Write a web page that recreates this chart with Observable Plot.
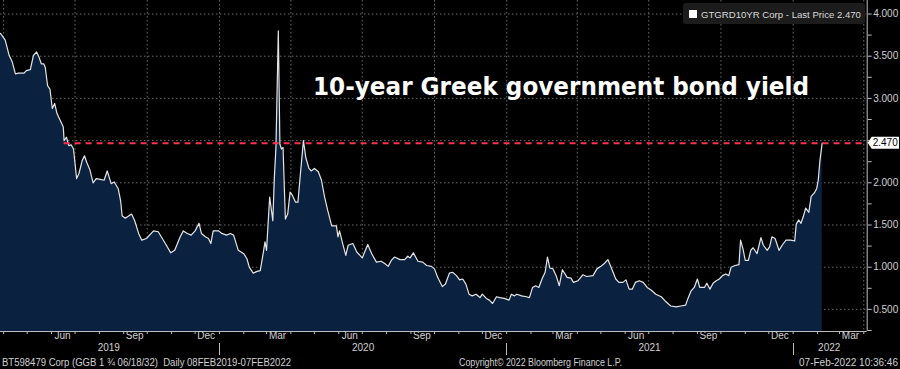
<!DOCTYPE html>
<html><head><meta charset="utf-8">
<script src="https://cdn.jsdelivr.net/npm/d3@7"></script>
<script src="https://cdn.jsdelivr.net/npm/@observablehq/plot@0.6"></script>
<style>
html,body{margin:0;padding:0;background:#000;}
#chart{width:900px;height:369px;overflow:hidden;}
svg{display:block}
</style></head><body><div id="chart"></div>
<script>
// ---- data (GTGRD10YR, yield %) ----
const days2019 = ["03-28","04-03","04-08","04-12","04-16","04-20","04-27","04-30","05-05","05-09","05-13","05-16","05-19","05-22","05-24","05-27","05-30","06-02","06-05","06-08","06-12","06-16","06-17","06-20","06-23","06-26","06-29","07-03","07-06","07-10","07-13","07-16","07-20","07-24","07-28","08-02","08-07","08-11","08-16","08-20","08-25","08-28","08-30","09-03","09-11","09-15","09-20","09-24","09-30","10-09","10-15","10-24","10-31","11-05","11-12","11-16","11-21","11-26","12-01","12-06","12-09","12-14","12-18","12-21","12-24","12-31"];
const yields2019 = [3.77,3.69,3.51,3.43,3.29,3.30,3.30,3.33,3.34,3.51,3.55,3.49,3.41,3.41,3.37,3.15,3.11,2.88,2.94,2.82,2.74,2.66,2.50,2.54,2.44,2.45,2.40,2.05,2.11,2.26,2.32,2.24,2.15,2.00,2.05,2.04,2.03,2.14,1.99,2.01,1.93,1.79,1.61,1.58,1.63,1.55,1.40,1.32,1.34,1.43,1.42,1.28,1.17,1.20,1.36,1.43,1.40,1.38,1.43,1.52,1.40,1.36,1.34,1.28,1.43,1.43];
const days2020 = ["01-04","01-10","01-15","01-19","01-25","02-01","02-05","02-08","02-13","02-18","02-22","02-26","02-28","03-01","03-05","03-09","03-11","03-13","03-16","03-18","03-20","03-22","03-25","03-28","03-31","04-03","04-07","04-10","04-13","04-17","04-20","04-24","04-27","05-01","05-06","05-10","05-14","05-18","05-23","05-29","05-31","06-02","06-06","06-10","06-13","06-19","06-24","07-01","07-05","07-08","07-13","07-19","07-25","07-30","08-03","08-07","08-11","08-18","08-24","08-28","08-31","09-04","09-10","09-16","09-21","09-27","10-01","10-05","10-11","10-15","10-20","10-24","10-29","11-02","11-06","11-10","11-14","11-18","11-23","11-28","12-01","12-06","12-10","12-14","12-19","12-23","12-29"];
const yields2020 = [1.40,1.38,1.40,1.38,1.20,1.16,1.10,1.00,0.93,0.95,0.96,1.18,1.30,1.20,1.83,1.55,2.07,2.42,3.80,2.46,2.40,2.42,1.57,1.63,1.89,1.85,1.77,1.77,2.09,2.50,2.30,2.17,2.14,2.17,2.13,2.03,1.83,1.67,1.49,1.49,1.36,1.43,1.28,1.14,1.26,1.28,1.18,1.11,1.20,1.27,1.16,1.06,1.07,1.04,1.01,1.08,1.12,1.09,1.09,1.13,1.11,1.17,1.07,1.06,1.02,1.01,0.98,0.88,0.77,0.80,0.93,0.94,0.90,0.85,0.86,0.80,0.68,0.66,0.68,0.64,0.68,0.63,0.61,0.57,0.65,0.64,0.63];
const days2021 = ["01-04","01-07","01-11","01-14","01-20","01-26","01-30","02-03","02-07","02-11","02-15","02-19","02-22","02-25","03-01","03-05","03-09","03-13","03-19","03-24","03-27","04-02","04-08","04-13","04-21","04-26","05-01","05-05","05-10","05-14","05-20","05-24","05-29","06-02","06-06","06-10","06-14","06-19","06-24","06-29","07-04","07-10","07-17","07-23","07-29","08-05","08-11","08-17","08-20","08-24","08-28","09-01","09-04","09-10","09-13","09-17","09-21","09-25","09-29","10-03","10-07","10-11","10-14","10-19","10-24","10-26","10-29","11-01","11-05","11-08","11-11","11-16","11-21","11-24","11-29","12-02","12-05","12-09","12-14","12-18","12-23","12-29"];
const yields2021 = [0.61,0.68,0.66,0.68,0.66,0.65,0.64,0.76,0.78,0.76,0.86,0.94,1.12,0.99,0.98,0.90,0.78,0.97,0.88,0.87,0.82,0.84,0.91,0.89,0.90,0.98,1.01,1.04,1.09,1.00,0.86,0.82,0.82,0.85,0.74,0.74,0.82,0.84,0.82,0.76,0.73,0.68,0.65,0.59,0.54,0.53,0.54,0.55,0.63,0.72,0.76,0.86,0.76,0.76,0.81,0.74,0.81,0.84,0.86,0.90,0.92,0.90,1.00,1.02,1.03,1.32,1.22,1.08,1.08,1.20,1.23,1.16,1.35,1.26,1.20,1.24,1.36,1.34,1.20,1.26,1.32,1.32];
const days2022 = ["01-03","01-05","01-08","01-11","01-14","01-17","01-21","01-24","01-28","01-31","02-02","02-04","02-07"];
const yields2022 = [1.31,1.51,1.56,1.52,1.60,1.70,1.65,1.84,1.88,1.93,2.03,2.25,2.47];

const lastPrice = 2.47;
const lastPriceLabel = "2.470";
const refLineStart = "2019-06-17";
const yTickValues = [0.5,1,1.5,2,2.5,3,3.5,4];
const yLabelValues = [0.5,1,1.5,2,3,3.5,4]; // 2.500 is hidden behind the last-price tag
const yMinorValues = [0.25,0.5,0.75,1,1.25,1.5,1.75,2,2.25,2.5,2.75,3,3.25,3.5,3.75,4];
const monthLabels = ["Jun","Sep","Dec","Mar","Jun","Sep","Dec","Mar","Jun","Sep","Dec","Mar"];
const monthLabelDates = ["2019-06-15","2019-09-15","2019-12-15","2020-03-15","2020-06-15","2020-09-15","2020-12-15","2021-03-15","2021-06-15","2021-09-15","2021-12-15","2022-03-15"];
const yearLabels = ["2019","2020","2021","2022"];
const yearLabelDates = ["2019-08-13","2020-07-02","2021-07-02","2022-02-16"];
const yearBreaks = ["2020-01-01","2021-01-01","2022-01-01"];
const titleText = "10-year Greek government bond yield";
const legendText = "GTGRD10YR Corp - Last Price 2.470";
const footerLeft = "BT598479 Corp (GGB 1 \u00BE 06/18/32)  Daily 08FEB2019-07FEB2022";
const footerMid = "Copyright\u00A9 2022 Bloomberg Finance L.P.";
const footerRight = "07-Feb-2022 10:36:46";

const utc = s => new Date(s + "T00:00:00Z");
const data = [];
[[2019, days2019, yields2019],[2020, days2020, yields2020],[2021, days2021, yields2021],[2022, days2022, yields2022]]
  .forEach(([yr, ds, vs]) => ds.forEach((d, i) => data.push({date: utc(yr + "-" + d), value: vs[i]})));

const xStart = utc("2019-03-28"), xEnd = new Date("2022-04-05T09:00:00Z");
const yMin = 0.238, yMax = 4.16;
const monthStarts = d3.utcMonth.range(utc("2019-04-01"), xEnd);
const quarterStarts = d3.utcMonth.every(3).range(utc("2019-04-01"), xEnd);
const fmt = d3.format(".3f");
const axisFont = "'Liberation Sans', Arial, sans-serif";

const plot = Plot.plot({
  width: 900, height: 369,
  marginLeft: 0, marginRight: 33.3, marginTop: 0, marginBottom: 38,
  style: {background: "#000", color: "#cfcfcf", fontFamily: axisFont, fontSize: "10px", overflow: "visible"},
  x: {type: "utc", domain: [xStart, xEnd], axis: null},
  y: {domain: [yMin, yMax], axis: null},
  marks: [
    Plot.gridY(yTickValues, {stroke: "#6a6a6a", strokeOpacity: 1, strokeDasharray: "1.5,2.5"}),
    Plot.gridX(quarterStarts, {stroke: "#6a6a6a", strokeOpacity: 1, strokeDasharray: "1.5,2.5"}),
    Plot.areaY(data, {x: "date", y1: () => yMin, y2: "value", fill: "#0a2240", curve: "linear"}),
    Plot.lineY(data, {x: "date", y: "value", stroke: "#e4e4e4", strokeWidth: 1.2}),
    Plot.ruleY([lastPrice], {x1: utc(refLineStart), x2: xEnd, stroke: "#ff3052", strokeWidth: 2, strokeDasharray: "6,5"}),
    Plot.ruleY([yMin], {stroke: "#bdbdbd", strokeWidth: 1}),
    Plot.ruleX([xEnd], {stroke: "#bdbdbd", strokeWidth: 1}),
    Plot.axisX(monthStarts, {anchor: "bottom", tickSize: 3, tickFormat: () => "", stroke: "#bdbdbd", label: null}),
    Plot.axisY(yMinorValues, {anchor: "right", tickSize: 4, tickPadding: 2, stroke: "#bdbdbd", fill: "#d0d0d0",
      tickFormat: d => yLabelValues.includes(d) ? fmt(d) : "", label: null, fontSize: 10}),
    Plot.text(monthLabels, {x: (d, i) => utc(monthLabelDates[i]), text: d => d, frameAnchor: "bottom", dy: 7.8, fill: "#d0d0d0", fontSize: 10}),
    Plot.text(yearLabels, {x: (d, i) => utc(yearLabelDates[i]), text: d => d, frameAnchor: "bottom", dy: 19, fill: "#d0d0d0", fontSize: 10})
  ]
});
document.getElementById("chart").appendChild(plot);

const svg = d3.select(plot);
const xs = plot.scale("x"), ys = plot.scale("y");
const addText = (x, y, txt, opts) => {
  const t = svg.append("text").attr("x", x).attr("y", y).attr("text-anchor", opts.anchor || "start")
    .attr("fill", opts.fill || "#d0d0d0").attr("font-size", opts.size || 10)
    .attr("font-family", opts.family || axisFont).text(txt);
  if (opts.weight) t.attr("font-weight", opts.weight);
  if (opts.len) t.attr("textLength", opts.len).attr("lengthAdjust", "spacingAndGlyphs");
  return t;
};
// year separators below the axis
yearBreaks.forEach(s => {
  const x = Math.round(xs.apply(utc(s))) + 0.5;
  svg.append("line").attr("x1", x).attr("x2", x).attr("y1", 343).attr("y2", 355).attr("stroke", "#bdbdbd");
});
// last-price tag on the right axis
const ty = ys.apply(lastPrice);
const ax = xs.apply(xEnd);
svg.append("path").attr("d", `M${ax+1},${ty} L${ax+5},${ty-6} L899,${ty-6} L899,${ty+6} L${ax+5},${ty+6} Z`).attr("fill", "#fff");
addText(ax + 6, ty + 3.6, lastPriceLabel, {fill: "#000"});
// legend box
svg.append("rect").attr("x", 683).attr("y", 3).attr("width", 182).attr("height", 21).attr("rx", 3).attr("fill", "#1c1c1c");
svg.append("rect").attr("x", 689).attr("y", 10).attr("width", 8).attr("height", 8).attr("fill", "#fff");
addText(701, 17.8, legendText, {fill: "#d8d8d8", size: 9.6});
// title
addText(313, 94.5, titleText, {fill: "#fff", size: 24, weight: "bold", family: "'DejaVu Sans', Verdana, sans-serif", len: 496});
// footer
addText(2, 365.5, footerLeft, {len: 289});
addText(459, 365.5, footerMid, {len: 163});
addText(898, 365.5, footerRight, {anchor: "end"});
</script></body></html>
